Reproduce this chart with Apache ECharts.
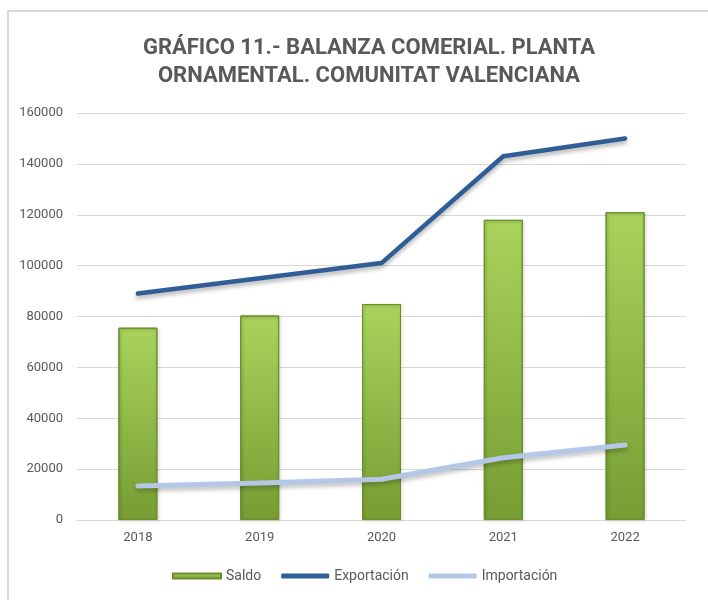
<!DOCTYPE html>
<html>
<head>
<meta charset="utf-8">
<script src="https://cdn.jsdelivr.net/npm/echarts@6/dist/echarts.min.js"></script>
<style>
html, body { margin: 0; padding: 0; background: #fff; }
#main { width: 708px; height: 600px; }
</style>
</head>
<body>
<div id="main"></div>
<script>
'use strict';

// data
const years = ['2018', '2019', '2020', '2021', '2022'];
const saldo = [75600, 80400, 84900, 118000, 121000];
const exportacion = [89000, 95000, 101000, 143000, 150000];
const importacion = [13400, 14500, 16000, 24500, 29500];

const TXT = '#595959';
const C_EXP = '#2f5d95';
const C_IMP = '#b4c7e7';

const chart = echarts.init(document.getElementById('main'), null, { renderer: 'canvas' });

const barColor = new echarts.graphic.LinearGradient(0, 0, 0, 1, [
	{ offset: 0, color: '#a9d35c' },
	{ offset: 1, color: '#779d33' }
]);

const option = {
	backgroundColor: '#fff',
	textStyle: { fontFamily: 'Roboto' },
	graphic: [{
		type: 'rect',
		shape: { x: 8, y: 11, width: 740, height: 620 },
		style: { fill: 'none', stroke: '#d9d9d9', lineWidth: 2 },
		silent: true,
		z: -1
	}],
	title: {
		text: 'GRÁFICO 11.- BALANZA COMERIAL. PLANTA\nORNAMENTAL. COMUNITAT VALENCIANA',
		left: 364,
		textAlign: 'center',
		top: 29,
		textStyle: {
			color: TXT,
			fontSize: 22,
			fontWeight: 'bold',
			lineHeight: 28,
			fontFamily: 'Roboto'
		}
	},
	legend: {
		bottom: 12,
		left: 167,
		itemWidth: 48,
		itemHeight: 5,
		itemGap: 20,
		textStyle: { color: TXT, fontSize: 14 },
		data: [
			{ name: 'Saldo', icon: 'rect' },
			{ name: 'Exportación', icon: 'roundRect', itemStyle: { color: C_EXP } },
			{ name: 'Importación', icon: 'roundRect', itemStyle: { color: C_IMP } }
		]
	},
	grid: { left: 77, right: 22, top: 113, bottom: 80 },
	xAxis: {
		type: 'category',
		data: years,
		axisLine: { lineStyle: { color: '#d9d9d9', width: 1 } },
		axisTick: { show: false },
		axisLabel: { color: TXT, fontSize: 13, margin: 11 }
	},
	yAxis: {
		type: 'value',
		min: 0,
		max: 160000,
		interval: 20000,
		axisLine: { show: false },
		axisTick: { show: false },
		splitLine: { lineStyle: { color: '#d9d9d9', width: 1 } },
		axisLabel: { color: TXT, fontSize: 13, margin: 14, formatter: v => String(v) }
	},
	series: [{
		name: 'Saldo',
		type: 'bar',
		data: saldo,
		barWidth: 39,
		itemStyle: {
			color: barColor,
			borderColor: '#6a8f2a',
			borderWidth: 1,
			shadowColor: 'rgba(0,0,0,0.25)',
			shadowBlur: 3,
			shadowOffsetX: 1,
			shadowOffsetY: 1
		}
	}, {
		name: 'Exportación',
		type: 'line',
		data: exportacion,
		symbol: 'none',
		lineStyle: {
			color: C_EXP,
			width: 4.5,
			cap: 'round',
			join: 'round',
			shadowColor: 'rgba(0,0,0,0.3)',
			shadowBlur: 4,
			shadowOffsetY: 3
		},
		itemStyle: { color: C_EXP }
	}, {
		name: 'Importación',
		type: 'line',
		data: importacion,
		symbol: 'none',
		lineStyle: {
			color: C_IMP,
			width: 5,
			cap: 'round',
			join: 'round',
			shadowColor: 'rgba(0,0,0,0.25)',
			shadowBlur: 4,
			shadowOffsetY: 3
		},
		itemStyle: { color: C_IMP }
	}]
};

chart.setOption(option);
</script>
</body>
</html>
